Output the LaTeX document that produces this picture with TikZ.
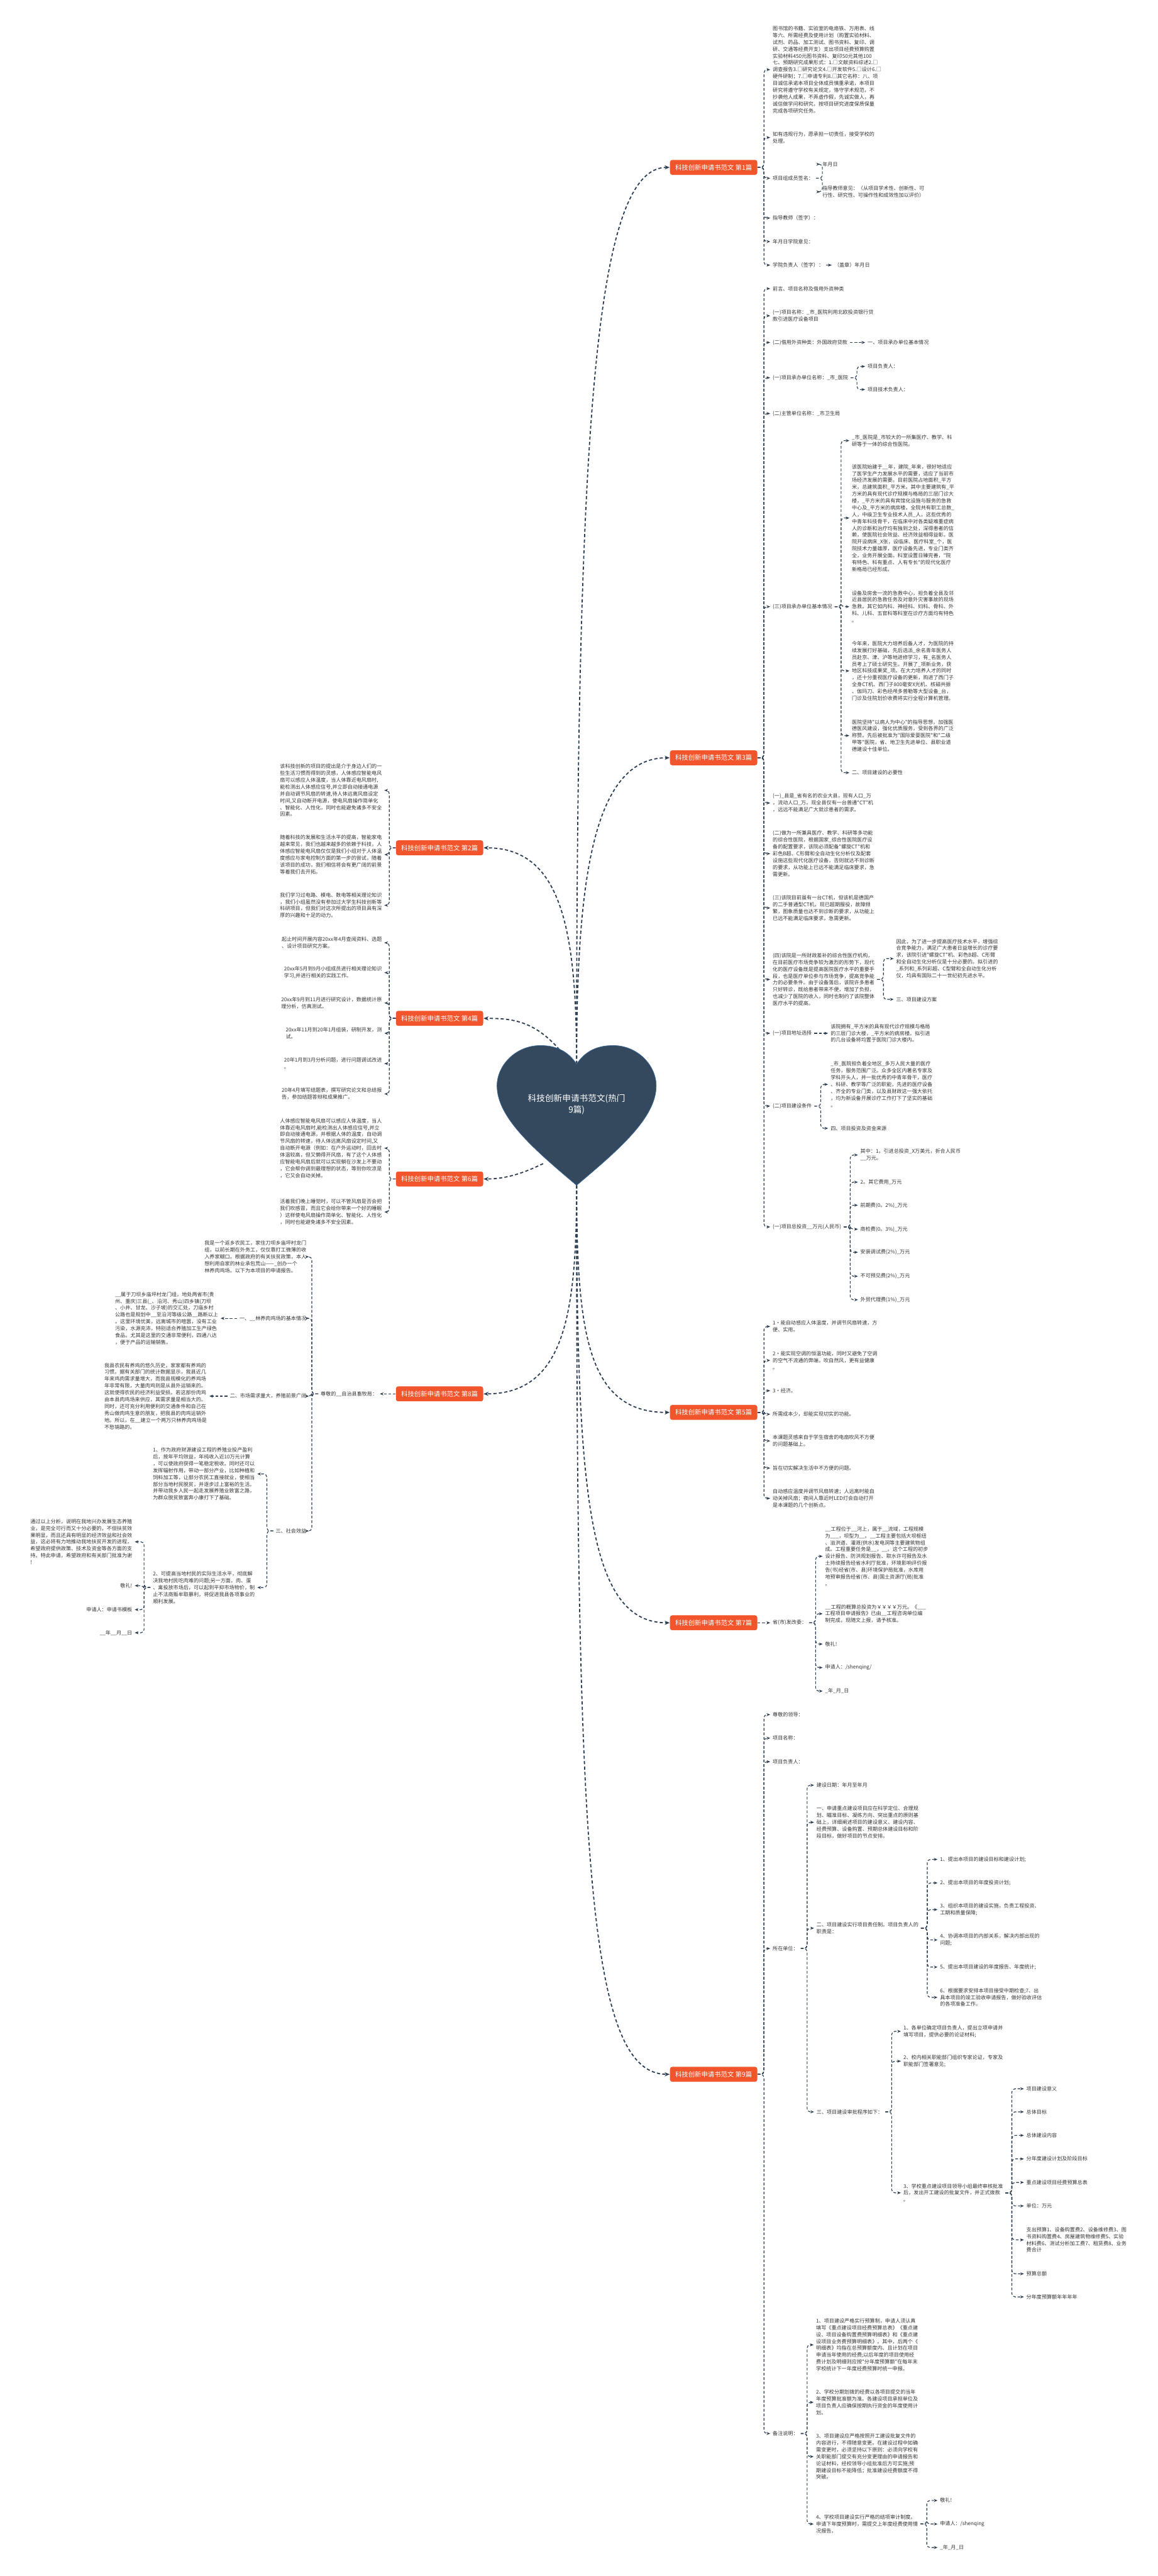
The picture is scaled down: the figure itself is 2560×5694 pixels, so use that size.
\documentclass[tikz,border=0pt]{standalone}
\usepackage{fontspec}
\newfontfamily\cjk{Noto Sans CJK SC}
\usepackage{tikz}
\usetikzlibrary{arrows.meta,positioning}

\definecolor{heartcol}{HTML}{34495E}
\definecolor{heartrim}{HTML}{3A6A9E}
\definecolor{boxcol}{HTML}{F2552C}
\definecolor{linecol}{HTML}{2C3E50}
\definecolor{txtcol}{HTML}{333333}

\begin{document}
\begin{tikzpicture}[
    x=0.01cm, y=-0.01cm,
    txt/.style={font=\cjk\fontsize{3.2}{4.3}\selectfont, text=txtcol, align=left,
                inner xsep=0.05cm, inner ysep=0.02cm},
    rtxt/.style={txt, anchor=west},
    ltxt/.style={txt, anchor=east},
    branch/.style={fill=boxcol, text=white, rounded corners=0.05cm, minimum width=1.93cm,
                minimum height=0.33cm, inner sep=0.02cm, font=\cjk\fontsize{4.1}{5}\selectfont},
    link/.style={draw=linecol, line width=0.025cm, dash pattern=on 0.07cm off 0.05cm,
                -{Stealth[length=0.11cm,width=0.09cm]}},
    sub/.style={draw=linecol, line width=0.016cm, dash pattern=on 0.06cm off 0.04cm,
                rounded corners=0.07cm, -{Stealth[length=0.08cm,width=0.065cm]}}
]
\useasboundingbox (0,0) rectangle (2560,5694);
\fill[white] (0,0) rectangle (2560,5694);

% --- Root (heart) ---
\coordinate (hTop) at (1275,2352);
\coordinate (hTip) at (1275,2620);
\coordinate (hUL) at (1237,2320);
\coordinate (hLL) at (1201,2572);

% --- Branch boxes ---
\node[branch] (b1) at (1578,370) {科技创新申请书范文 第1篇};
\node[branch] (b3) at (1578,1675) {科技创新申请书范文 第3篇};
\node[branch] (b5) at (1578,3122) {科技创新申请书范文 第5篇};
\node[branch] (b7) at (1578,3587) {科技创新申请书范文 第7篇};
\node[branch] (b9) at (1578,4585) {科技创新申请书范文 第9篇};
\node[branch] (b2) at (972,1874) {科技创新申请书范文 第2篇};
\node[branch] (b4) at (972,2251) {科技创新申请书范文 第4篇};
\node[branch] (b6) at (972,2606) {科技创新申请书范文 第6篇};
\node[branch] (b8) at (972,3081) {科技创新申请书范文 第8篇};

\draw[link] (hTop) .. controls (1275,900) and (1320,370) .. (b1.west);
\draw[link] (hTop) .. controls (1275,1950) and (1310,1675) .. (b3.west);
\draw[link] (hTop) .. controls (1275,2050) and (1240,1874) .. (b2.east);
\draw[link] (hUL) .. controls (1180,2255) and (1130,2251) .. (b4.east);
\draw[link] (hLL) .. controls (1160,2592) and (1120,2606) .. (b6.east);
\draw[link] (hTip) .. controls (1275,2950) and (1300,3122) .. (b5.west);
\draw[link] (hTip) .. controls (1275,3300) and (1300,3587) .. (b7.west);
\draw[link] (hTip) .. controls (1275,4100) and (1300,4585) .. (b9.west);
\draw[link] (hTip) .. controls (1275,2900) and (1250,3081) .. (b8.east);

\filldraw[fill=heartcol, draw=heartrim, line width=0.01cm]
    (1275,2352) .. controls (1255,2322) and (1228,2311) .. (1195,2311)
    .. controls (1140,2311) and (1099,2355) .. (1099,2400)
    .. controls (1099,2470) and (1180,2540) .. (1275,2620)
    .. controls (1370,2540) and (1451,2470) .. (1451,2400)
    .. controls (1451,2355) and (1410,2311) .. (1356,2311)
    .. controls (1322,2311) and (1295,2322) .. (1275,2352) -- cycle;
\node[font=\cjk\fontsize{5.4}{7.3}\selectfont, text=white, align=center] (root) at (1275,2441)
    {科技创新申请书范文(热门\\9篇)};

% --- 第1篇 ---
\node[rtxt] (equip) at (1703,154) {图书馆的书籍、实验室的电烙铁、万用表、线\\等六、所需经费及使用计划（购置实验材料、\\试剂、药品、加工测试、图书资料、复印、调\\研、交通等经费开支）支出项目经费预算购置\\实验材料450元图书资料、复印50元其他100\\七、预期研究成果形式：1.□文献资料综述2.□\\调查报告3.□研究论文4.□开发软件5.□设计6.□\\硬件研制；7.□申请专利8.□其它名称：八、项\\目诚信承诺本项目全体成员慎重承诺，本项目\\研究将遵守学校有关规定，恪守学术规范，不\\抄袭他人成果，不弄虚作假，先诚实做人，再\\诚信做学问和研究，按项目研究进度保质保量\\完成各项研究任务。};
\node[rtxt] (breach) at (1703,304) {如有违规行为，愿承担一切责任，接受学校的\\处理。};
\node[rtxt] (sign) at (1703,394) {项目组成员签名：};
\node[rtxt] (sdate) at (1813,363) {年月日};
\node[rtxt] (advice) at (1813,424) {指导教师意见：（从项目学术性、创新性、可\\行性、研究性、可操作性和成效性加以评价）};
\node[rtxt] (tsign) at (1703,482) {指导教师（签字）：};
\node[rtxt] (colop) at (1703,534) {年月日学院意见：};
\node[rtxt] (chief) at (1703,586) {学院负责人（签字）：};
\node[rtxt] (seal) at (1839,586) {（盖章）年月日};

\draw[sub] (b1.east) -- ++(14,0) |- (equip.west);
\draw[sub] (b1.east) -- ++(14,0) |- (breach.west);
\draw[sub] (b1.east) -- ++(14,0) |- (sign.west);
\draw[sub] (b1.east) -- ++(14,0) |- (tsign.west);
\draw[sub] (b1.east) -- ++(14,0) |- (colop.west);
\draw[sub] (b1.east) -- ++(14,0) |- (chief.west);
\draw[sub] (sign.east) -- ++(14,0) |- (sdate.west);
\draw[sub] (sign.east) -- ++(14,0) |- (advice.west);
\draw[sub] (chief.east) -- (seal.west);

% --- 第3篇 ---
\node[rtxt] (preface) at (1703,638) {前言、项目名称及借用外资种类};
\node[rtxt] (pname) at (1703,698) {(一)项目名称：\_市\_医院利用北欧投资银行贷\\款引进医疗设备项目};
\node[rtxt] (ftype) at (1703,757) {(二)借用外资种类：外国政府贷款};
\node[rtxt] (ftypec) at (1913,757) {一、项目承办单位基本情况};
\node[rtxt] (uname) at (1703,835) {(一)项目承办单位名称：\_市\_医院};
\node[rtxt] (uleader) at (1913,810) {项目负责人：};
\node[rtxt] (utech) at (1913,861) {项目技术负责人：};
\node[rtxt] (dept) at (1703,914) {(二)主管单位名称：\_市卫生局};
\node[rtxt] (basic) at (1703,1341) {(三)项目承办单位基本情况};
\node[rtxt] (hosp1) at (1878,974) {\_市\_医院是\_市较大的一所集医疗、教学、科\\研等于一体的综合性医院。};
\node[rtxt] (hosp2) at (1878,1145) {该医院始建于\_\_年，建院\_年来，很好地适应\\了医学生产力发展水平的需要，适应了当前市\\场经济发展的需要。目前医院占地面积\_平方\\米，总建筑面积\_平方米。其中主要建筑有\_平\\方米的具有现代诊疗规模与格局的三层门诊大\\楼，\_平方米的具有宾馆化设施与服务的急救\\中心及\_平方米的病房楼。全院共有职工总数\_\\人，中级卫生专业技术人员\_人。这些优秀的\\中青年科技骨干，在临床中对各类疑难重症病\\人的诊断和治疗均有独到之处，深得患者的信\\赖，使医院社会效益、经济效益相得益彰。医\\院开设病床\_X张，设临床、医疗科室\_个，医\\院技术力量雄厚，医疗设备先进，专业门类齐\\全，业务开展全面。科室设置日臻完善，"院\\有特色、科有重点、人有专长"的现代化医疗\\新格局已经形成。};
\node[rtxt] (hosp3) at (1878,1341) {设备及房舍一流的急救中心，担负着全县及邻\\近县居民的急救任务及对意外灾害事故的现场\\急救。其它如内科、神经科、妇科、骨科、外\\科、儿科、五官科等科室在诊疗方面均有特色\\。};
\node[rtxt] (hosp4) at (1878,1483) {今年来，医院大力培养后备人才，为医院的持\\续发展打好基础，先后选派\_余名青年医务人\\员赴京、津、沪等地进修学习，有\_名医务人\\员考上了硕士研究生。开展了\_项新业务，获\\地区科技成果奖\_项。在大力培养人才的同时\\，还十分重视医疗设备的更新，购进了西门子\\全身CT机、西门子800毫安X光机、核磁共振\\、伽玛刀、彩色经颅多普勒等大型设备\_台，\\门诊及住院划价收费将实行全程计算机管理。};
\node[rtxt] (hosp5) at (1878,1626) {医院坚持"以病人为中心"的指导思想，加强医\\德医风建设，强化优质服务，受到各界的广泛\\称赞。先后被批准为"国际爱婴医院"和"二级\\甲等"医院，省、地卫生先进单位、县职业道\\德建设十佳单位。};
\node[rtxt] (need) at (1878,1708) {二、项目建设的必要性};
\node[rtxt] (county) at (1703,1775) {(一)\_县是\_省有名的农业大县，现有人口\_万\\，流动人口\_万。现全县仅有一台普通"CT"机\\，远远不能满足广大就诊患者的需求。};
\node[rtxt] (multi) at (1703,1887) {(二)做为一所兼具医疗、教学、科研等多功能\\的综合性医院，根据国家\_综合性医院医疗设\\备的配置要求，该院必须配备"螺旋CT"机和\\彩色B超、C形臂和全自动生化分析仪及配套\\设施这些现代化医疗设备，否则就达不到诊断\\的要求，从功能上已远不能满足临床要求，急\\需更新。};
\node[rtxt] (ctold) at (1703,2007) {(三)该院目前虽有一台CT机，但该机是德国产\\的二手普通型CT机，现已超期服役，故障频\\繁，图象质量也达不到诊断的要求，从功能上\\已远不能满足临床要求，急需更新。};
\node[rtxt] (finance) at (1703,2165) {(四)该院是一所财政差补的综合性医疗机构，\\在目前医疗市场竞争较为激烈的形势下，现代\\化的医疗设备既是提高医院医疗水平的重要手\\段，也是医疗单位参与市场竞争，提高竞争能\\力的必要条件。由于设备落后，该院许多患者\\只好转诊，既给患者带来不便，增加了负担，\\也减少了医院的收入，同时也制约了该院整体\\医疗水平的提高。};
\node[rtxt] (therefore) at (1976,2119) {因此，为了进一步提高医疗技术水平，增强综\\合竞争能力，满足广大患者日益增长的诊疗要\\求，该院引进"螺旋CT"机、彩色B超、C形臂\\和全自动生化分析仪是十分必要的。拟引进的\\\_系列和\_系列彩超、C型臂和全自动生化分析\\仪，均具有国际二十一世纪初先进水平。};
\node[rtxt] (plan) at (1976,2209) {三、项目建设方案};
\node[rtxt] (site) at (1703,2284) {(一)项目地址选择};
\node[rtxt] (sitec) at (1831,2284) {该院拥有\_平方米的具有现代诊疗规模与格局\\的三层门诊大楼，\_平方米的病房楼。拟引进\\的几台设备将均置于医院门诊大楼内。};
\node[rtxt] (cond) at (1703,2445) {(二)项目建设条件};
\node[rtxt] (condc) at (1831,2397) {\_市\_医院担负着全地区\_多万人民大量的医疗\\任务，服务范围广泛。众多全区内著名专家及\\学科开头人，并一批优秀的中青年骨干，医疗\\、科研、教学等广泛的职能，先进的医疗设备\\、齐全的专业门类，以及县财政这一强大依托\\，均为新设备开展诊疗工作打下了坚实的基础\\。};
\node[rtxt] (invsrc) at (1831,2494) {四、项目投资及资金来源};
\node[rtxt] (total) at (1703,2712) {(一)项目总投资\_\_万元(人民币)};
\node[rtxt] (t1) at (1897,2553) {其中：1。引进总投资\_X万美元，折合人民币\\\_\_万元。};
\node[rtxt] (t2) at (1897,2613) {2。其它费用\_万元};
\node[rtxt] (t3) at (1897,2664) {前期费(0。2\%)\_万元};
\node[rtxt] (t4) at (1897,2717) {商检费(0。3\%)\_万元};
\node[rtxt] (t5) at (1897,2768) {安装调试费(2\%)\_万元};
\node[rtxt] (t6) at (1897,2821) {不可预见费(2\%)\_万元};
\node[rtxt] (t7) at (1897,2873) {外贸代理费(1\%)\_万元};

\draw[sub] (b3.east) -- ++(14,0) |- (preface.west);
\draw[sub] (b3.east) -- ++(14,0) |- (pname.west);
\draw[sub] (b3.east) -- ++(14,0) |- (ftype.west);
\draw[sub] (b3.east) -- ++(14,0) |- (uname.west);
\draw[sub] (b3.east) -- ++(14,0) |- (dept.west);
\draw[sub] (b3.east) -- ++(14,0) |- (basic.west);
\draw[sub] (b3.east) -- ++(14,0) |- (county.west);
\draw[sub] (b3.east) -- ++(14,0) |- (multi.west);
\draw[sub] (b3.east) -- ++(14,0) |- (ctold.west);
\draw[sub] (b3.east) -- ++(14,0) |- (finance.west);
\draw[sub] (b3.east) -- ++(14,0) |- (site.west);
\draw[sub] (b3.east) -- ++(14,0) |- (cond.west);
\draw[sub] (b3.east) -- ++(14,0) |- (total.west);
\draw[sub] (ftype.east) -- (ftypec.west);
\draw[sub] (uname.east) -- ++(14,0) |- (uleader.west);
\draw[sub] (uname.east) -- ++(14,0) |- (utech.west);
\draw[sub] (basic.east) -- ++(14,0) |- (hosp1.west);
\draw[sub] (basic.east) -- ++(14,0) |- (hosp2.west);
\draw[sub] (basic.east) -- ++(14,0) |- (hosp3.west);
\draw[sub] (basic.east) -- ++(14,0) |- (hosp4.west);
\draw[sub] (basic.east) -- ++(14,0) |- (hosp5.west);
\draw[sub] (basic.east) -- ++(14,0) |- (need.west);
\draw[sub] (finance.east) -- ++(14,0) |- (therefore.west);
\draw[sub] (finance.east) -- ++(14,0) |- (plan.west);
\draw[sub] (site.east) -- (sitec.west);
\draw[sub] (cond.east) -- ++(14,0) |- (condc.west);
\draw[sub] (cond.east) -- ++(14,0) |- (invsrc.west);
\draw[sub] (total.east) -- ++(14,0) |- (t1.west);
\draw[sub] (total.east) -- ++(14,0) |- (t2.west);
\draw[sub] (total.east) -- ++(14,0) |- (t3.west);
\draw[sub] (total.east) -- ++(14,0) |- (t4.west);
\draw[sub] (total.east) -- ++(14,0) |- (t5.west);
\draw[sub] (total.east) -- ++(14,0) |- (t6.west);
\draw[sub] (total.east) -- ++(14,0) |- (t7.west);

% --- 第5篇 ---
\node[rtxt] (fan1) at (1703,2932) {1·能自动感应人体温度，并调节风扇转速，方\\便、实用。};
\node[rtxt] (fan2) at (1703,3007) {2·能实现空调的恒温功能，同时又避免了空调\\的空气不流通的弊端，吹自然风，更有益健康\\。};
\node[rtxt] (fan3) at (1703,3074) {3·经济。};
\node[rtxt] (fan4) at (1703,3126) {所需成本少，却能实现切实的功能。};
\node[rtxt] (fan5) at (1703,3185) {本课题灵感来自于学生宿舍的电扇吹风不方便\\的问题基础上。};
\node[rtxt] (fan6) at (1703,3245) {旨在切实解决生活中不方便的问题。};
\node[rtxt] (fan7) at (1703,3312) {自动感应温度并调节风扇转速；人远离时能自\\动关掉风扇；夜间人靠近时LED灯会自动打开\\是本课题的几个创新点。};

\draw[sub] (b5.east) -- ++(14,0) |- (fan1.west);
\draw[sub] (b5.east) -- ++(14,0) |- (fan2.west);
\draw[sub] (b5.east) -- ++(14,0) |- (fan3.west);
\draw[sub] (b5.east) -- ++(14,0) |- (fan4.west);
\draw[sub] (b5.east) -- ++(14,0) |- (fan5.west);
\draw[sub] (b5.east) -- ++(14,0) |- (fan6.west);
\draw[sub] (b5.east) -- ++(14,0) |- (fan7.west);

% --- 第7篇 ---
\node[rtxt] (ndrc) at (1703,3587) {省(市)发改委：};
\node[rtxt] (dam) at (1819,3440) {\_\_工程位于\_\_河上，属于\_\_流域，工程规模\\为\_\_\_，坝型为\_\_。\_\_工程主要包括大坝枢纽\\、溢洪道、灌溉(供水)发电洞等主要建筑物组\\成。工程重要任务是\_\_，\_\_。这个工程的初步\\设计报告、防洪规划报告、取水许可报告及水\\土持续报告经省水利厅批准，环境影响评价报\\告(书)经省(市、县)环境保护局批准，水库用\\地预审报告经省(市、县)国土资源厅(局)批准\\。};
\node[rtxt] (cost) at (1819,3567) {\_\_工程的概算总投资为￥￥￥￥万元。《\_\_\_\\工程项目申请报告》已由\_\_工程咨询单位编\\制完成，现随文上报，请予核准。};
\node[rtxt] (salute7) at (1819,3634) {敬礼!};
\node[rtxt] (appl7) at (1819,3686) {申请人：/shenqing/};
\node[rtxt] (date7) at (1819,3738) {\_年\_月\_日};

\draw[sub] (b7.east) -- (ndrc.west);
\draw[sub] (ndrc.east) -- ++(14,0) |- (dam.west);
\draw[sub] (ndrc.east) -- ++(14,0) |- (cost.west);
\draw[sub] (ndrc.east) -- ++(14,0) |- (salute7.west);
\draw[sub] (ndrc.east) -- ++(14,0) |- (appl7.west);
\draw[sub] (ndrc.east) -- ++(14,0) |- (date7.west);

% --- 第9篇 ---
\node[rtxt] (dear) at (1703,3790) {尊敬的领导：};
\node[rtxt] (title) at (1703,3842) {项目名称：};
\node[rtxt] (leader) at (1703,3894) {项目负责人：};
\node[rtxt] (unit) at (1703,4307) {所在单位：};
\node[rtxt] (bdate) at (1800,3946) {建设日期：年月至年月};
\node[rtxt] (rule1) at (1800,4028) {一、申请重点建设项目应在科学定位、合理规\\划、瞄准目标、凝练方向、突出重点的原则基\\础上，详细阐述项目的建设意义、建设内容、\\经费预算、设备购置、预期总体建设目标和阶\\段目标，做好项目的节点安排。};
\node[rtxt] (duty) at (1800,4262) {二、项目建设实行项目责任制。项目负责人的\\职责是：};
\node[rtxt] (d1) at (2073,4110) {1、提出本项目的建设目标和建设计划;};
\node[rtxt] (d2) at (2073,4162) {2、提出本项目的年度投资计划;};
\node[rtxt] (d3) at (2073,4221) {3、组织本项目的建设实施，负责工程投资、\\工期和质量保障;};
\node[rtxt] (d4) at (2073,4288) {4、协调本项目的内部关系，解决内部出现的\\问题;};
\node[rtxt] (d5) at (2073,4348) {5、提出本项目建设的年度报告、年度统计;};
\node[rtxt] (d6) at (2073,4415) {6、根据要求安排本项目接受中期检查;7、出\\具本项目的竣工验收申请报告，做好验收评估\\的各项准备工作。};
\node[rtxt] (approve) at (1800,4668) {三、项目建设审批程序如下：};
\node[rtxt] (a1) at (1992,4490) {1、各单位确定项目负责人，提出立项申请并\\填写项目，提供必要的论证材料;};
\node[rtxt] (a2) at (1992,4556) {2、校内相关职能部门组织专家论证，专家及\\职能部门签署意见;};
\node[rtxt] (a3) at (1992,4847) {3、学校重点建设项目领导小组最终审核批准\\后，发出开工建设的批复文件，并正式拨款\\。};
\node[rtxt] (s1) at (2264,4617) {项目建设意义};
\node[rtxt] (s2) at (2264,4668) {总体目标};
\node[rtxt] (s3) at (2264,4720) {总体建设内容};
\node[rtxt] (s4) at (2264,4772) {分年度建设计划及阶段目标};
\node[rtxt] (s5) at (2264,4824) {重点建设项目经费预算总表};
\node[rtxt] (s6) at (2264,4876) {单位：万元};
\node[rtxt] (s7) at (2264,4951) {支出预算1、设备购置费2、设备维修费3、图\\书资料购置费4、房屋建筑物维修费5、实验\\材料费6、测试分析加工费7、租赁费8、业务\\费合计};
\node[rtxt] (s8) at (2264,5026) {预算总额};
\node[rtxt] (s9) at (2264,5077) {分年度预算额年年年年};
\node[rtxt] (remark) at (1703,5379) {备注说明：};
\node[rtxt] (r1) at (1799,5183) {1、项目建设严格实行预算制，申请人须认真\\填写《重点建设项目经费预算总表》《重点建\\设、项目设备购置费预算明细表》和《重点建\\设项目业务费预算明细表》。其中，后两个《\\明细表》均指在总预算额度内、且计划在项目\\申请当年使用的经费;以后年度的项目使用经\\费计划及明细则应按"分年度预算额"在每年末\\学校统计下一年度经费预算时统一申报。};
\node[rtxt] (r2) at (1799,5310) {2、学校分期划拨的经费以各项目提交的当年\\年度预算批准额为准。各建设项目承担单位及\\项目负责人应确保按期执行资金的年度使用计\\划。};
\node[rtxt] (r3) at (1799,5430) {3、项目建设应严格按照开工建设批复文件的\\内容进行，不得随意变更。在建设过程中如确\\需变更时，必须坚持以下原则：必须向学校有\\关职能部门提交有充分变更理由的申请报告和\\论证材料，经校领导小组批准后方可实施;预\\期建设目标不能降低；批准建设经费额度不得\\突破。};
\node[rtxt] (r4) at (1799,5579) {4、学校项目建设实行严格的结项审计制度。\\申请下年度预算时，需提交上年度经费使用情\\况报告。};
\node[rtxt] (salute9) at (2073,5527) {敬礼!};
\node[rtxt] (appl9) at (2073,5579) {申请人：/shenqing};
\node[rtxt] (date9) at (2073,5631) {\_年\_月\_日};

\draw[sub] (b9.east) -- ++(14,0) |- (dear.west);
\draw[sub] (b9.east) -- ++(14,0) |- (title.west);
\draw[sub] (b9.east) -- ++(14,0) |- (leader.west);
\draw[sub] (b9.east) -- ++(14,0) |- (unit.west);
\draw[sub] (b9.east) -- ++(14,0) |- (remark.west);
\draw[sub] (unit.east) -- ++(14,0) |- (bdate.west);
\draw[sub] (unit.east) -- ++(14,0) |- (rule1.west);
\draw[sub] (unit.east) -- ++(14,0) |- (duty.west);
\draw[sub] (unit.east) -- ++(14,0) |- (approve.west);
\draw[sub] (duty.east) -- ++(14,0) |- (d1.west);
\draw[sub] (duty.east) -- ++(14,0) |- (d2.west);
\draw[sub] (duty.east) -- ++(14,0) |- (d3.west);
\draw[sub] (duty.east) -- ++(14,0) |- (d4.west);
\draw[sub] (duty.east) -- ++(14,0) |- (d5.west);
\draw[sub] (duty.east) -- ++(14,0) |- (d6.west);
\draw[sub] (approve.east) -- ++(14,0) |- (a1.west);
\draw[sub] (approve.east) -- ++(14,0) |- (a2.west);
\draw[sub] (approve.east) -- ++(14,0) |- (a3.west);
\draw[sub] (a3.east) -- ++(14,0) |- (s1.west);
\draw[sub] (a3.east) -- ++(14,0) |- (s2.west);
\draw[sub] (a3.east) -- ++(14,0) |- (s3.west);
\draw[sub] (a3.east) -- ++(14,0) |- (s4.west);
\draw[sub] (a3.east) -- ++(14,0) |- (s5.west);
\draw[sub] (a3.east) -- ++(14,0) |- (s6.west);
\draw[sub] (a3.east) -- ++(14,0) |- (s7.west);
\draw[sub] (a3.east) -- ++(14,0) |- (s8.west);
\draw[sub] (a3.east) -- ++(14,0) |- (s9.west);
\draw[sub] (remark.east) -- ++(14,0) |- (r1.west);
\draw[sub] (remark.east) -- ++(14,0) |- (r2.west);
\draw[sub] (remark.east) -- ++(14,0) |- (r3.west);
\draw[sub] (remark.east) -- ++(14,0) |- (r4.west);
\draw[sub] (r4.east) -- ++(14,0) |- (salute9.west);
\draw[sub] (r4.east) -- ++(14,0) |- (appl9.west);
\draw[sub] (r4.east) -- ++(14,0) |- (date9.west);

% --- 第2篇 ---
\node[ltxt] (idea) at (850,1747) {该科技创新的项目的提出是介于身边人们的一\\些生活习惯而得到的灵感，人体感应智能电风\\扇可以感应人体温度，当人体靠近电风扇时,\\能检测出人体感应信号,并立即自动接通电源\\并自动调节风扇的转速,待人体远离风扇设定\\时间,又自动断开电源，使电风扇操作简单化\\、智能化、人性化，同时也能避免诸多不安全\\因素。};
\node[ltxt] (trend) at (850,1889) {随着科技的发展和生活水平的提高，智能家电\\越来常见，我们也越来越多的依赖于科技，人\\体感应智能电风扇仅仅是我们小组对于人体温\\度感应与家电控制方面的第一步的尝试，随着\\该项目的成功，我们相信将会有更广阔的前景\\等着我们去开拓。};
\node[ltxt] (study) at (850,2001) {我们学习过电路、模电、数电等相关理论知识\\，我们小组虽然没有参加过大学生科技创新等\\科研项目，但我们对这次所提出的项目具有深\\厚的兴趣和十足的动力。};

\draw[sub] (b2.west) -- ++(-14,0) |- (idea.east);
\draw[sub] (b2.west) -- ++(-14,0) |- (trend.east);
\draw[sub] (b2.west) -- ++(-14,0) |- (study.east);

% --- 第4篇 ---
\node[ltxt] (sch1) at (850,2084) {起止时间开展内容20xx年4月查阅资料、选题\\、设计项目研究方案。};
\node[ltxt] (sch2) at (850,2150) {20xx年5月到9月小组成员进行相关理论知识\\学习,并进行相关的实践工作。};
\node[ltxt] (sch3) at (850,2217) {20xx年9月到11月进行研究设计，数据统计原\\理分析，仿真测试。};
\node[ltxt] (sch4) at (850,2284) {20xx年11月到20年1月组装，研制开发，测\\试。};
\node[ltxt] (sch5) at (850,2351) {20年1月到3月分析问题，进行问题调试改进\\。};
\node[ltxt] (sch6) at (850,2418) {20年4月填写结题表，撰写研究论文和总结报\\告，参加结题答辩和成果推广。};

\draw[sub] (b4.west) -- ++(-14,0) |- (sch1.east);
\draw[sub] (b4.west) -- ++(-14,0) |- (sch2.east);
\draw[sub] (b4.west) -- ++(-14,0) |- (sch3.east);
\draw[sub] (b4.west) -- ++(-14,0) |- (sch4.east);
\draw[sub] (b4.west) -- ++(-14,0) |- (sch5.east);
\draw[sub] (b4.west) -- ++(-14,0) |- (sch6.east);

% --- 第6篇 ---
\node[ltxt] (sens) at (850,2538) {人体感应智能电风扇可以感应人体温度，当人\\体靠近电风扇时,能检测出人体感应信号,并立\\即自动接通电源，并根据人体的温度，自动调\\节风扇的转速，待人体远离风扇设定时间,又\\自动断开电源（例如：在户外运动时，回去时\\体温较高，但又懒得开风扇，有了这个人体感\\应智能电风扇后就可以实现躺在沙发上不要动\\，它会帮你调到最理想的状态，等到你吹凉是\\，它又会自动关掉。};
\node[ltxt] (sleep) at (850,2679) {活着我们晚上睡觉时，可以不管风扇是否会把\\我们吹感冒，而且它会给你带来一个好的睡眠\\）这样使电风扇操作简单化、智能化、人性化\\，同时也能避免诸多不安全因素。};

\draw[sub] (b6.west) -- ++(-14,0) |- (sens.east);
\draw[sub] (b6.west) -- ++(-14,0) |- (sleep.east);

% --- 第8篇 ---
\node[ltxt] (bureau) at (840,3081) {尊敬的\_\_自治县畜牧局：};
\node[ltxt] (farmer) at (683,2778) {我是一个返乡农民工，家住刀坝乡庙坪村龙门\\组，以前长期在外务工，仅仅靠打工微薄的收\\入养家糊口。根据政府的有关扶贫政策，本人\\想利用自家的林业承包荒山——\_创办一个\\林养肉鸡场。以下为本项目的申请报告。};
\node[ltxt] (basics) at (683,2914) {一、\_\_林养肉鸡场的基本情况};
\node[ltxt] (basicsc) at (488,2914) {\_\_属于刀坝乡庙坪村龙门组，地处两省市(贵\\州、重庆)三县(\_、沿河、秀山)四乡镇(刀坝\\、小井、甘龙、沙子坡)的交汇处，刀庙乡村\\公路也是规划中\_\_至沿河等级公路\_\_路断以上\\。这里环境优美，远离城市的喧嚣，没有工业\\污染，水源充沛，特别适合养殖加工生产绿色\\食品。尤其是这里的交通非常便利，四通八达\\，便于产品的运输销售。};
\node[ltxt] (market) at (683,3086) {二、市场需求量大，养殖前景广阔};
\node[ltxt] (marketc) at (463,3086) {我县农民有养鸡的悠久历史，家家都有养鸡的\\习惯。据有关部门的统计数据显示，我县近几\\年来鸡肉需求量增大，而我县规模化的养鸡场\\年非常有限，大量肉鸡则是从县外运销来的。\\这就使得农民的经济利益受损。若这部份肉鸡\\由本县肉鸡场来供应，其需求量是相当大的。\\同时，还可充分利用便利的交通条件和自己在\\秀山做肉鸡生意的朋友，把我县的肉鸡运销外\\地。所以，在\_\_建立一个两万只林养肉鸡场是\\不愁销路的。};
\node[ltxt] (benefit) at (683,3384) {三、社会效益};
\node[ltxt] (ben1) at (569,3258) {1、作为政府财源建设工程的养殖业投产盈利\\后，按年平均效益，年纯收入近10万元计算\\，可以使政府获得一笔稳定税收。同时还可以\\发挥辐射作用，带动一部分产业，比如种植和\\饲料加工等，让部分农民工直接就业，使相当\\部分当地村民脱贫，并逐步过上富裕的生活。\\并带动我乡人民一起走发展养殖业致富之路，\\为群众脱贫致富奔小康打下了基础。};
\node[ltxt] (ben2) at (569,3509) {2、可提高当地村民的实际生活水平，彻底解\\决我地村民吃肉难的问题;另一方面，肉、蛋\\、禽投放市场后，可以起到平抑市场物价，制\\止不法商贩牟取暴利，将促进我县各项事业的\\顺利发展。};
\node[ltxt] (concl) at (298,3408) {通过以上分析，说明在我地兴办发展生态养殖\\业，是完全可行而又十分必要的，不但扶贫效\\果明显，而且还具有明显的经济效益和社会效\\益，这必将有力地推动我地扶贫开发的进程，\\希望政府提供政策、技术及资金等各方面的支\\持。特此申请，希望政府和有关部门批准为谢\\!};
\node[ltxt] (salute8) at (298,3505) {敬礼!};
\node[ltxt] (appl8) at (298,3558) {申请人：申请书模板};
\node[ltxt] (date8) at (298,3609) {\_\_年\_\_月\_\_日};

\draw[sub] (b8.west) -- (bureau.east);
\draw[sub] (bureau.west) -- ++(-14,0) |- (farmer.east);
\draw[sub] (bureau.west) -- ++(-14,0) |- (basics.east);
\draw[sub] (bureau.west) -- ++(-14,0) |- (market.east);
\draw[sub] (bureau.west) -- ++(-14,0) |- (benefit.east);
\draw[sub] (basics.west) -- (basicsc.east);
\draw[sub] (market.west) -- (marketc.east);
\draw[sub] (benefit.west) -- ++(-14,0) |- (ben1.east);
\draw[sub] (benefit.west) -- ++(-14,0) |- (ben2.east);
\draw[sub] (ben2.west) -- ++(-14,0) |- (concl.east);
\draw[sub] (ben2.west) -- ++(-14,0) |- (salute8.east);
\draw[sub] (ben2.west) -- ++(-14,0) |- (appl8.east);
\draw[sub] (ben2.west) -- ++(-14,0) |- (date8.east);

\end{tikzpicture}
\end{document}
